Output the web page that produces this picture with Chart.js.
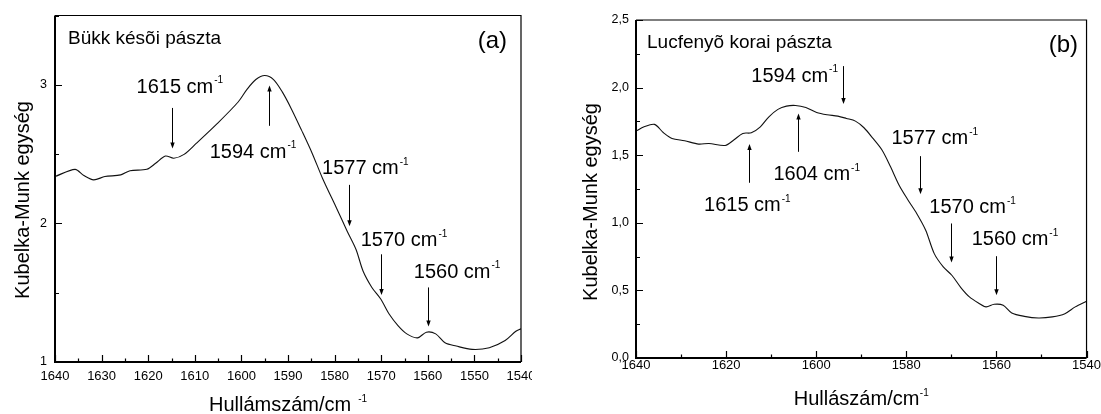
<!DOCTYPE html>
<html>
<head>
<meta charset="utf-8">
<script src="https://cdn.jsdelivr.net/npm/chart.js@4.4.1/dist/chart.umd.min.js"></script>
<style>
  body{margin:0;background:#fff;}
  #wrap{position:relative;width:1101px;height:414px;overflow:hidden;background:#fff;}
  .pane{position:absolute;top:0;height:414px;overflow:hidden;}
  #paneA{left:0;width:532px;}
  #paneB{left:550px;width:551px;}
  canvas{display:block;}
</style>
</head>
<body>
<div id="wrap">
  <div class="pane" id="paneA"><canvas id="chartA" width="550" height="414" style="width:550px;height:414px"></canvas></div>
  <div class="pane" id="paneB"><canvas id="chartB" width="551" height="414" style="width:551px;height:414px"></canvas></div>
</div>
<script>
(function(){
'use strict';
const FONT = '"Liberation Sans", Arial, Helvetica, sans-serif';

// (a) Bükk késõi pászta — hullámszám (cm-1) / Kubelka-Munk
const wnA = [1640.0, 1635.7, 1633.8, 1631.7, 1629.3, 1625.9, 1623.9, 1620.3, 1618.4, 1616.3,
             1614.5, 1612.3, 1609.7, 1605.2, 1600.7, 1598.8, 1596.9, 1595.0, 1593.1, 1591.2,
             1589.3, 1587.1, 1584.8, 1582.6, 1579.6, 1577.3, 1575.4, 1573.9, 1572.0, 1570.1,
             1568.3, 1566.4, 1564.5, 1562.2, 1560.3, 1558.3, 1556.3, 1553.9, 1550.5, 1546.8,
             1543.4, 1541.1, 1540.0];
const kmA = [2.338, 2.390, 2.345, 2.314, 2.338, 2.350, 2.380, 2.390, 2.434, 2.486,
             2.470, 2.498, 2.577, 2.720, 2.876, 2.967, 3.038, 3.067, 3.038, 2.947,
             2.828, 2.673, 2.505, 2.326, 2.111, 1.944, 1.812, 1.657, 1.538, 1.454,
             1.346, 1.263, 1.203, 1.174, 1.215, 1.203, 1.139, 1.115, 1.091, 1.103,
             1.155, 1.222, 1.239];

// (b) Lucfenyõ korai pászta
const wnB = [1640.0, 1638.2, 1635.9, 1633.9, 1632.0, 1629.2, 1626.1, 1623.8, 1620.2, 1618.3,
             1616.3, 1614.4, 1612.4, 1610.5, 1608.5, 1606.6, 1604.6, 1602.3, 1599.9, 1597.6,
             1595.2, 1593.3, 1591.3, 1589.4, 1587.4, 1585.4, 1583.5, 1581.6, 1579.6, 1577.7,
             1575.7, 1573.8, 1571.8, 1569.9, 1567.9, 1566.0, 1564.0, 1562.3, 1560.5, 1558.5,
             1556.6, 1553.8, 1550.7, 1547.6, 1544.8, 1542.5, 1540.0];
const kmB = [1.678, 1.710, 1.728, 1.666, 1.624, 1.607, 1.582, 1.587, 1.572, 1.612,
             1.661, 1.666, 1.710, 1.784, 1.839, 1.863, 1.868, 1.853, 1.816, 1.799,
             1.789, 1.772, 1.752, 1.703, 1.624, 1.538, 1.414, 1.278, 1.167, 1.069,
             0.945, 0.772, 0.674, 0.612, 0.521, 0.452, 0.407, 0.378, 0.397, 0.390,
             0.333, 0.308, 0.296, 0.304, 0.328, 0.378, 0.420];

// sávok (cm-1), nyíllal jelölve
const bandsA = [1615, 1594, 1577, 1570, 1560];
const bandsB = [1615, 1604, 1594, 1577, 1570, 1560];

// nyíl kezdete/vége és felirat helye, tengelyegységben
const notesA = [
  {from: 2.833, to: 2.541, lx: 1622.5, ly: 2.943},
  {from: 2.704, to: 2.995, lx: 1606.8, ly: 2.474},
  {from: 2.278, to: 1.980, lx: 1582.7, ly: 2.355},
  {from: 1.777, to: 1.483, lx: 1574.4, ly: 1.836},
  {from: 1.538, to: 1.256, lx: 1563.0, ly: 1.609}
];
const notesB = [
  {from: 1.296, to: 1.582, lx: 1624.9, ly: 1.088},
  {from: 1.525, to: 1.809, lx: 1609.5, ly: 1.315},
  {from: 2.159, to: 1.878, lx: 1614.4, ly: 2.043},
  {from: 1.493, to: 1.212, lx: 1583.3, ly: 1.582},
  {from: 0.995, to: 0.706, lx: 1574.9, ly: 1.069},
  {from: 0.753, to: 0.464, lx: 1565.5, ly: 0.834}
];

function supText(ctx, base, sup, x, y, size, gap){
  ctx.textAlign = 'left';
  ctx.textBaseline = 'alphabetic';
  ctx.font = size + 'px ' + FONT;
  ctx.fillText(base, x, y);
  const w = ctx.measureText(base).width;
  ctx.font = Math.round(size * 0.52) + 'px ' + FONT;
  ctx.fillText(sup, x + w + gap, y - size * 0.47);
  return w + gap + ctx.measureText(sup).width;
}
function supWidth(ctx, base, sup, size, gap){
  ctx.font = size + 'px ' + FONT;
  const w = ctx.measureText(base).width;
  ctx.font = Math.round(size * 0.52) + 'px ' + FONT;
  return w + gap + ctx.measureText(sup).width;
}

function decor(p){
  return {
    id: 'specDecor',
    afterDraw(chart){
      const ctx = chart.ctx, a = chart.chartArea;
      const xs = chart.scales.x, ys = chart.scales.y;
      ctx.save();
      ctx.strokeStyle = '#000';
      ctx.fillStyle = '#000';

      // keret: bal és alsó tengely vastagabb
      ctx.lineWidth = 1.2;
      ctx.beginPath();
      ctx.moveTo(a.left, a.top); ctx.lineTo(a.right, a.top); ctx.lineTo(a.right, a.bottom);
      ctx.stroke();
      ctx.lineWidth = 2;
      ctx.beginPath();
      ctx.moveTo(a.left, a.top); ctx.lineTo(a.left, a.bottom); ctx.lineTo(a.right, a.bottom);
      ctx.stroke();

      // befelé mutató osztásjelek
      ctx.lineWidth = 1.2;
      ctx.beginPath();
      xs.ticks.forEach(t => {
        const px = Math.round(xs.getPixelForValue(t.value)) + 0.5;
        const len = Math.round(t.value) % p.xMajor === 0 ? 7 : 3.5;
        ctx.moveTo(px, a.bottom); ctx.lineTo(px, a.bottom - len);
      });
      ys.ticks.forEach(t => {
        const py = Math.round(ys.getPixelForValue(t.value)) + 0.5;
        const major = Math.abs(t.value / p.yMajor - Math.round(t.value / p.yMajor)) < 1e-6;
        ctx.moveTo(a.left, py); ctx.lineTo(a.left + (major ? 7 : 4), py);
      });
      ctx.stroke();

      // nyilak
      ctx.lineWidth = 1;
      p.bands.forEach((b, i) => {
        const n = p.notes[i];
        const x = Math.round(xs.getPixelForValue(b)) + 0.5;
        const y1 = ys.getPixelForValue(n.from), y2 = ys.getPixelForValue(n.to);
        const dir = y2 > y1 ? 1 : -1;
        ctx.beginPath();
        ctx.moveTo(x, y1); ctx.lineTo(x, y2 - dir * 5);
        ctx.stroke();
        ctx.beginPath();
        ctx.moveTo(x, y2); ctx.lineTo(x - 2.2, y2 - dir * 6); ctx.lineTo(x + 2.2, y2 - dir * 6);
        ctx.closePath(); ctx.fill();
        supText(ctx, b + ' cm', '-1', xs.getPixelForValue(n.lx), ys.getPixelForValue(n.ly), 20, 1);
      });

      // minta neve és betűjele
      ctx.font = '19px ' + FONT;
      ctx.textAlign = 'left'; ctx.textBaseline = 'alphabetic';
      ctx.fillText(p.name, a.left + p.nameDx, p.nameY);
      ctx.font = '24px ' + FONT;
      ctx.textAlign = 'right';
      ctx.fillText(p.tag, p.tagRight, p.tagY);

      // x tengely címe
      const gap = p.xGap;
      const tw = supWidth(ctx, p.xTitle, '-1', 20, gap);
      supText(ctx, p.xTitle, '-1', (a.left + a.right) / 2 - tw / 2, p.xTitleY, 20, gap);

      // y tengely címe
      ctx.save();
      ctx.translate(p.yTitleX, p.yTitleY);
      ctx.rotate(-Math.PI / 2);
      ctx.font = '20px ' + FONT;
      ctx.textAlign = 'center'; ctx.textBaseline = 'alphabetic';
      ctx.fillText('Kubelka-Munk egység', 0, 0);
      ctx.restore();

      ctx.restore();
    }
  };
}

function buildPanel(id, wn, km, p){
  const pts = wn.map((w, i) => ({x: w, y: km[i]}));
  return new Chart(document.getElementById(id).getContext('2d'), {
    type: 'line',
    data: {
      datasets: [{
        data: pts, borderColor: '#111', borderWidth: 1.1,
        pointRadius: 0, tension: 0.3, fill: false
      }]
    },
    options: {
      responsive: false, animation: false, events: [],
      layout: {padding: {top: p.padTop, right: p.padRight, bottom: 0, left: 0}},
      plugins: {legend: {display: false}, tooltip: {enabled: false}},
      scales: {
        x: {
          type: 'linear', reverse: true, min: 1540, max: 1640,
          grid: {display: false, drawTicks: false}, border: {display: false},
          ticks: {
            stepSize: p.xStep, autoSkip: false, maxRotation: 0, padding: p.xPad,
            color: '#000', font: {family: FONT, size: 13},
            callback: v => Math.round(v) % p.xMajor === 0 ? String(v) : ''
          },
          afterFit(s){ s.height = p.xHeight; }
        },
        y: {
          min: p.yMin, max: p.yMax,
          grid: {display: false, drawTicks: false}, border: {display: false},
          ticks: {
            stepSize: p.yStep, autoSkip: false, padding: p.yPad,
            color: '#000', font: {family: FONT, size: 12.5},
            callback: p.yFmt
          },
          afterFit(s){ s.width = p.yWidth; }
        }
      }
    },
    plugins: [decor(p)]
  });
}

buildPanel('chartA', wnA, kmA, {
  bands: bandsA, notes: notesA,
  name: 'Bükk késõi pászta', tag: '(a)', nameDx: 13, nameY: 44, tagRight: 507, tagY: 48,
  xTitle: 'Hullámszám/cm', xGap: 7, xTitleY: 411, yTitleX: 28.5, yTitleY: 200,
  padTop: 12, padRight: 29, xHeight: 52, yWidth: 55,
  xStep: 5, xMajor: 10, xPad: 7,
  yMin: 1, yMax: 3.5, yStep: 0.5, yMajor: 1, yPad: 8,
  yFmt: v => Math.abs(v - Math.round(v)) < 1e-6 ? String(Math.round(v)) : ''
});

buildPanel('chartB', wnB, kmB, {
  bands: bandsB, notes: notesB,
  name: 'Lucfenyõ korai pászta', tag: '(b)', nameDx: 11, nameY: 48, tagRight: 528, tagY: 52,
  xTitle: 'Hullászám/cm', xGap: 0.5, xTitleY: 405, yTitleX: 47.3, yTitleY: 202,
  padTop: 20, padRight: 14, xHeight: 56, yWidth: 86,
  xStep: 10, xMajor: 20, xPad: 0,
  yMin: 0, yMax: 2.5, yStep: 0.25, yMajor: 0.5, yPad: 7,
  yFmt: v => Math.abs(v * 2 - Math.round(v * 2)) < 1e-6 ? v.toFixed(1).replace('.', ',') : ''
});

})();
</script>
</body>
</html>
